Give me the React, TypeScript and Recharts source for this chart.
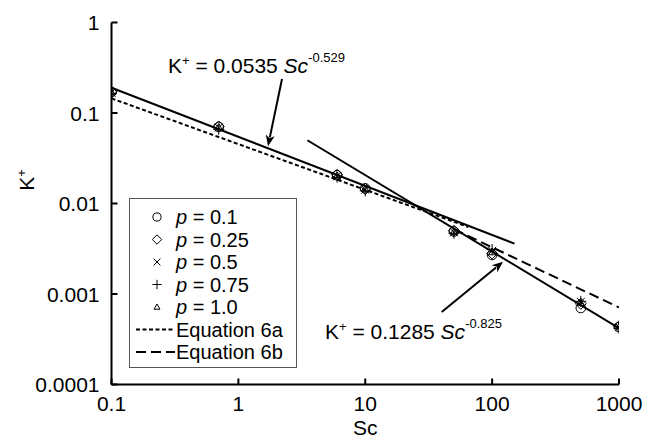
import React from 'react';
import {
  ComposedChart,
  Scatter,
  XAxis,
  YAxis,
  ReferenceLine,
  ReferenceDot,
  Legend,
} from 'recharts';

const FONT = '"Liberation Sans", Arial, Helvetica, sans-serif';

// ---- data ----
const scValues = [0.1, 0.7, 6, 10, 50, 100, 500, 1000];
const kP01 = [0.17, 0.07, 0.0205, 0.0147, 0.0049, 0.0027, 0.0007, 0.00043];
const kP025 = [0.172, 0.071, 0.0208, 0.0145, 0.005, 0.0028, 0.00078, 0.00044];
const kP05 = [0.168, 0.069, 0.02, 0.0142, 0.0048, 0.003, 0.00082, 0.00043];
const kP075 = [0.165, 0.066, 0.0195, 0.0138, 0.0047, 0.0031, 0.00083, 0.00042];
const kP10 = [0.17, 0.07, 0.0205, 0.0146, 0.0049, 0.0029, 0.0008, 0.00044];

const fitASc = [0.1, 150];
const fitAK = [0.19, 0.0036];
const fitBSc = [3.5, 1000];
const fitBK = [0.05, 0.00042];
const eq6aSc = [0.1, 65];
const eq6aK = [0.145, 0.0055];
const eq6bSc = [50, 1000];
const eq6bK = [0.0052, 0.00071];

const xTicks = [0.1, 1, 10, 100, 1000];
const yTicks = [0.0001, 0.001, 0.01, 0.1, 1];

const pLabels = ['0.1', '0.25', '0.5', '0.75', '1.0'];
const markerKinds = ['circle', 'diamond', 'cross', 'plus', 'triangle'];
const eqLabels = ['Equation 6a', 'Equation 6b'];

// annotation anchors (data coordinates)
const note1 = { sc: 0.2787, k: 0.2767, coef: '0.0535', exp: '-0.529' };
const note2 = { sc: 4.817, k: 0.000318, coef: '0.1285', exp: '-0.825' };
const arrow1 = { sc1: 2.207, k1: 0.2375, sc2: 1.712, k2: 0.043 };
const arrow2 = { sc1: 40.05, k1: 0.000632, sc2: 121.8, k2: 0.002275 };

const toPts = (xs: number[], ys: number[]) => xs.map((x, i) => ({ sc: x, k: ys[i] }));
const series = [kP01, kP025, kP05, kP075, kP10].map((ks) => toPts(scValues, ks));

const Marker = ({ kind, cx, cy, s = 1 }: { kind: string; cx: number; cy: number; s?: number }) => {
  const st = { fill: 'none', stroke: '#000', strokeWidth: 1 };
  switch (kind) {
    case 'circle':
      return <circle cx={cx} cy={cy} r={4.8 * s} {...st} />;
    case 'diamond': {
      const d = 5.5 * s;
      return <path d={`M${cx},${cy - d}L${cx + d},${cy}L${cx},${cy + d}L${cx - d},${cy}Z`} {...st} />;
    }
    case 'cross': {
      const d = 4 * s;
      return <path d={`M${cx - d},${cy - d}L${cx + d},${cy + d}M${cx - d},${cy + d}L${cx + d},${cy - d}`} {...st} />;
    }
    case 'plus': {
      const d = 5.5 * s;
      return <path d={`M${cx - d},${cy}L${cx + d},${cy}M${cx},${cy - d}L${cx},${cy + d}`} {...st} />;
    }
    default: {
      const d = 3.5 * s;
      return <path d={`M${cx},${cy - d}L${cx + d},${cy + d * 0.75}L${cx - d},${cy + d * 0.75}Z`} {...st} />;
    }
  }
};

const fmt = (v: number) => String(v);

const BottomTick = (props: any) => {
  const { x, y, payload } = props;
  return (
    <g>
      <line x1={x} y1={y} x2={x} y2={y - 6} stroke="#000" strokeWidth={2} />
      <text x={x} y={y + 26} textAnchor="middle" fontSize={21} fontFamily={FONT} fill="#000">
        {fmt(payload.value)}
      </text>
    </g>
  );
};
const TopTick = (props: any) => {
  const { x, y } = props;
  return <line x1={x} y1={y} x2={x} y2={y + 6} stroke="#000" strokeWidth={2} />;
};
const LeftTick = (props: any) => {
  const { x, y, payload } = props;
  return (
    <g>
      <line x1={x} y1={y} x2={x + 6} y2={y} stroke="#000" strokeWidth={2} />
      <text x={x - 12} y={y} dy="0.36em" textAnchor="end" fontSize={21} fontFamily={FONT} fill="#000">
        {fmt(payload.value)}
      </text>
    </g>
  );
};
const RightTick = (props: any) => {
  const { x, y } = props;
  return <line x1={x} y1={y} x2={x - 6} y2={y} stroke="#000" strokeWidth={2} />;
};

const ArrowShape = (props: any) => {
  const { x1, y1, x2, y2 } = props;
  if ([x1, y1, x2, y2].some((v) => typeof v !== 'number' || isNaN(v))) return <g />;
  const dx = x2 - x1;
  const dy = y2 - y1;
  const len = Math.sqrt(dx * dx + dy * dy) || 1;
  const ux = dx / len;
  const uy = dy / len;
  const hl = 11;
  const hw = 4.5;
  const bx = x2 - ux * hl;
  const by = y2 - uy * hl;
  return (
    <g>
      <line x1={x1} y1={y1} x2={bx + ux * 2} y2={by + uy * 2} stroke="#000" strokeWidth={2} />
      <path
        d={`M${x2},${y2}L${bx - uy * hw},${by + ux * hw}L${bx + ux * 3},${by + uy * 3}L${bx + uy * hw},${by - ux * hw}Z`}
        fill="#000"
      />
    </g>
  );
};

const noteShape = (coef: string, exp: string) => (props: any) => {
  const { cx, cy } = props;
  return (
    <text x={cx} y={cy} fontSize={21} fontFamily={FONT} fill="#000" style={{ whiteSpace: 'pre' }}>
      K
      <tspan dy={-8} fontSize={13}>+</tspan>
      <tspan dy={8}>{` = ${coef} `}</tspan>
      <tspan fontStyle="italic">Sc</tspan>
      <tspan dy={-11} fontSize={13}>{exp}</tspan>
    </text>
  );
};

const LegendBox = () => {
  const rowY = (i: number) => 18 + i * 22.5;
  return (
    <div
      style={{
        width: 168,
        height: 170,
        border: '1px solid #555',
        boxSizing: 'border-box',
        background: '#fff',
      }}
    >
      <svg width={166} height={168} style={{ display: 'block' }}>
        {pLabels.map((p, i) => (
          <g key={p}>
            <Marker kind={markerKinds[i]} cx={27} cy={rowY(i)} s={0.85} />
            <text
              x={46}
              y={rowY(i)}
              dy="0.36em"
              fontSize={20}
              fontFamily={FONT}
              fill="#000"
              style={{ whiteSpace: 'pre' }}
            >
              <tspan fontStyle="italic">p</tspan>
              {` = ${p}`}
            </text>
          </g>
        ))}
        {eqLabels.map((lab, j) => {
          const y = rowY(5 + j);
          return (
            <g key={lab}>
              <line
                x1={6}
                y1={y}
                x2={45}
                y2={y}
                stroke="#000"
                strokeWidth={2}
                strokeDasharray={j === 0 ? '4 2.5' : '10 5'}
              />
              <text x={46} y={y} dy="0.36em" fontSize={20} fontFamily={FONT} fill="#000">
                {lab}
              </text>
            </g>
          );
        })}
      </svg>
    </div>
  );
};

const YLabel = () => (
  <text
    x={18}
    y={172}
    transform="rotate(-90, 18, 172)"
    textAnchor="middle"
    dy="0.36em"
    fontSize={21}
    fontFamily={FONT}
    fill="#000"
  >
    K<tspan dy={-8} fontSize={13}>+</tspan>
  </text>
);

const XLabel = (props: any) => {
  const vb = props.viewBox || {};
  return (
    <text
      x={vb.x + vb.width / 2}
      y={vb.y + 50.5}
      textAnchor="middle"
      fontSize={21}
      fontFamily={FONT}
      fill="#000"
    >
      Sc
    </text>
  );
};

const hidden = () => <g />;

export default function App() {
  return (
    <div style={{ width: 642, height: 435, marginBottom: -8, position: 'relative' }}>
      <ComposedChart
        width={642}
        height={435}
        margin={{ top: 14.5, right: 31, bottom: 0, left: 3 }}
      >
        <XAxis
          xAxisId="b"
          dataKey="sc"
          type="number"
          scale="log"
          domain={[0.1, 1000]}
          allowDataOverflow
          ticks={xTicks}
          interval={0}
          tick={BottomTick}
          tickSize={0}
          tickMargin={0}
          tickLine={false}
          height={58.5}
          axisLine={{ stroke: '#000', strokeWidth: 2 }}
          label={<XLabel />}
        />
        <XAxis
          xAxisId="t"
          orientation="top"
          type="number"
          scale="log"
          domain={[0.1, 1000]}
          allowDataOverflow
          ticks={xTicks}
          interval={0}
          tick={TopTick}
          tickSize={0}
          tickMargin={0}
          tickLine={false}
          height={0}
          axisLine={{ stroke: '#000', strokeWidth: 2 }}
        />
        <YAxis
          yAxisId="l"
          dataKey="k"
          type="number"
          scale="log"
          domain={[0.0001, 1]}
          allowDataOverflow
          ticks={yTicks}
          interval={0}
          tick={LeftTick}
          tickSize={0}
          tickMargin={0}
          tickLine={false}
          width={100.5}
          axisLine={{ stroke: '#000', strokeWidth: 2 }}
        />
        <YAxis
          yAxisId="r"
          orientation="right"
          type="number"
          scale="log"
          domain={[0.0001, 1]}
          allowDataOverflow
          ticks={yTicks}
          interval={0}
          tick={RightTick}
          tickSize={0}
          tickMargin={0}
          tickLine={false}
          width={0}
          axisLine={{ stroke: '#000', strokeWidth: 2 }}
        />

        <Scatter
          xAxisId="b"
          yAxisId="l"
          data={toPts(eq6aSc, eq6aK)}
          line={{ stroke: '#000', strokeWidth: 2, strokeDasharray: '4 2.5' }}
          shape={hidden}
          isAnimationActive={false}
          legendType="none"
        />
        <Scatter
          xAxisId="b"
          yAxisId="l"
          data={toPts(eq6bSc, eq6bK)}
          line={{ stroke: '#000', strokeWidth: 2, strokeDasharray: '10 5' }}
          shape={hidden}
          isAnimationActive={false}
          legendType="none"
        />
        <Scatter
          xAxisId="b"
          yAxisId="l"
          data={toPts(fitASc, fitAK)}
          line={{ stroke: '#000', strokeWidth: 2 }}
          shape={hidden}
          isAnimationActive={false}
          legendType="none"
        />
        <Scatter
          xAxisId="b"
          yAxisId="l"
          data={toPts(fitBSc, fitBK)}
          line={{ stroke: '#000', strokeWidth: 2 }}
          shape={hidden}
          isAnimationActive={false}
          legendType="none"
        />

        {series.map((pts, i) => (
          <Scatter
            key={pLabels[i]}
            name={`p = ${pLabels[i]}`}
            xAxisId="b"
            yAxisId="l"
            data={pts}
            shape={(p: any) => <Marker kind={markerKinds[i]} cx={p.cx} cy={p.cy} />}
            isAnimationActive={false}
          />
        ))}

        <ReferenceLine
          xAxisId="b"
          yAxisId="l"
          segment={[
            { x: arrow1.sc1, y: arrow1.k1 },
            { x: arrow1.sc2, y: arrow1.k2 },
          ]}
          shape={ArrowShape}
          ifOverflow="visible"
        />
        <ReferenceLine
          xAxisId="b"
          yAxisId="l"
          segment={[
            { x: arrow2.sc1, y: arrow2.k1 },
            { x: arrow2.sc2, y: arrow2.k2 },
          ]}
          shape={ArrowShape}
          ifOverflow="visible"
        />
        <ReferenceDot
          xAxisId="b"
          yAxisId="l"
          x={note1.sc}
          y={note1.k}
          r={0}
          shape={noteShape(note1.coef, note1.exp)}
          ifOverflow="visible"
        />
        <ReferenceDot
          xAxisId="b"
          yAxisId="l"
          x={note2.sc}
          y={note2.k}
          r={0}
          shape={noteShape(note2.coef, note2.exp)}
          ifOverflow="visible"
        />

        <Legend
          layout="vertical"
          align="center"
          verticalAlign="middle"
          wrapperStyle={{ left: 121, top: 190, width: 168, height: 170 }}
          content={<LegendBox />}
        />
        <YLabel />
      </ComposedChart>
    </div>
  );
}
